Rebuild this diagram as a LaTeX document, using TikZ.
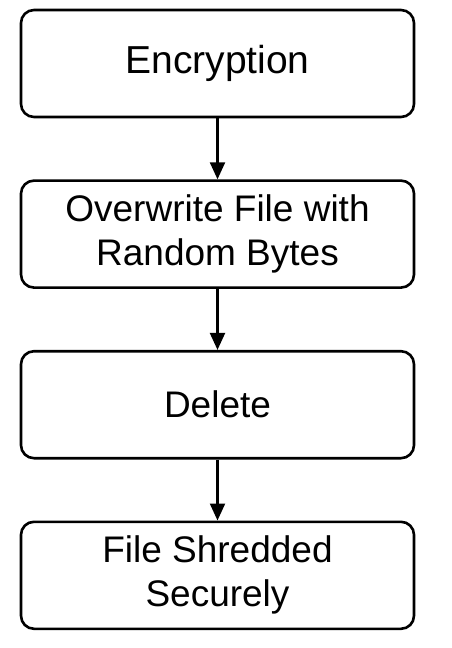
\documentclass[tikz,border=0pt]{standalone}
\usepackage{fontspec}
\setsansfont{Liberation Sans}
\usetikzlibrary{arrows.meta,positioning}

\begin{document}
\begin{tikzpicture}[font=\sffamily,
  node distance=61pt,
  process/.style={draw,line width=2.6pt,rounded corners=13pt,fill=white,
    minimum width=393pt,minimum height=107pt,align=center,
    font=\sffamily\fontsize{37}{44}\selectfont},
  to/.style={-{Triangle[length=17pt,width=15pt]},line width=2.2pt}]

    \useasboundingbox (0,0) rectangle (452pt,-648pt);

    \node[process,font=\sffamily\fontsize{39}{44}\selectfont](encrypt) at (217.5pt,-63.5pt){Encryption};
    \node[process](overwrite)[below=of encrypt]{Overwrite File with\\Random Bytes};
    \node[process](delete)[below=of overwrite]{Delete};
    \node[process](shredded)[below=of delete]{File Shredded\\Securely};

    \draw[to](encrypt) -- (overwrite);
    \draw[to](overwrite) -- (delete);
    \draw[to](delete) -- (shredded);
\end{tikzpicture}
\end{document}
